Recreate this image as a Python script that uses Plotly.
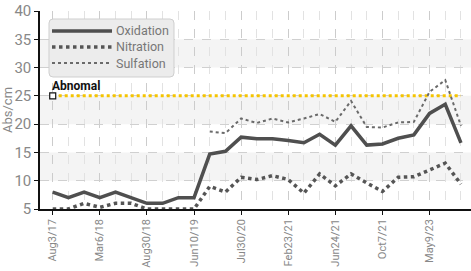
import plotly.graph_objects as go

x_index = list(range(27))
tick_positions = [0, 3, 6, 9, 12, 15, 18, 21, 24]
tick_labels = ["Aug3/17", "Mar6/18", "Aug30/18", "Jun10/19", "Jul30/20",
               "Feb23/21", "Jun24/21", "Oct7/21", "May9/23"]

oxidation = [8, 7, 8, 7, 8, 7, 6, 6, 7, 7, 14.7, 15.2, 17.7, 17.4, 17.4, 17.1, 16.7,
             18.2, 16.3, 19.7, 16.3, 16.5, 17.5, 18.1, 21.9, 23.5, 16.7]
nitration = [5, 5, 6, 5.3, 6, 6, 5, 5, 5, 5, 9, 8, 10.6, 10.2, 10.9, 10.2, 7.8,
             11.2, 9.1, 11.2, 9.6, 8.1, 10.6, 10.7, 11.9, 13.1, 9.4]
sulfation = [None] * 10 + [18.7, 18.4, 21.0, 20.2, 21.0, 20.3, 21.0, 21.8, 20.4,
                           24.1, 19.5, 19.4, 20.3, 20.4, 25.7, 27.8, 19.7]
abnormal_level = [25] * 27
series_names = ["Oxidation", "Nitration", "Sulfation"]

FONT = "Roboto, Liberation Sans, sans-serif"
W, H = 471, 271
ML, MR, MT, MB = 40, 0, 11, 62
PW, PH = W - ML - MR, H - MT - MB


def px_x(px):
    return (px - ML) / PW


def px_y(py):
    return (H - MB - py) / PH


styles = [dict(color="#4f4f4f", width=3.5),
          dict(color="#555555", width=3.5, dash="dot"),
          dict(color="#6a6a6a", width=2, dash="dot")]

fig = go.Figure()

# Background bands
for lo, hi in [(10, 15), (20, 25), (30, 35)]:
    fig.add_shape(type="rect", xref="paper", x0=0, x1=1, yref="y", y0=lo, y1=hi,
                  fillcolor="#f4f4f4", line_width=0, layer="below")

fig.add_trace(go.Scatter(x=x_index, y=abnormal_level, mode="lines", showlegend=False,
                         line=dict(color="#f5c400", width=3, dash="dot"), hoverinfo="skip"))
fig.add_trace(go.Scatter(x=[x_index[0]], y=[abnormal_level[0]], mode="markers", showlegend=False,
                         marker=dict(symbol="square", size=6, color="white",
                                     line=dict(color="#111", width=1.2))))

for name, vals, st in zip(series_names, [oxidation, nitration, sulfation], styles):
    fig.add_trace(go.Scatter(x=x_index, y=vals, name=name, mode="lines",
                             line=st, showlegend=False))

fig.add_annotation(x=x_index[0], y=25, xref="x", yref="y", text="<b>Abnomal</b>",
                   showarrow=False, xanchor="left", yanchor="bottom", xshift=-3, yshift=1,
                   font=dict(family=FONT, size=12, color="#111"))

# Custom legend box (rounded)
bx0, bx1, by0, by1, r = 49, 174, 19, 77, 4
rx, ry = r / PW, r / PH
X0, X1, Y0, Y1 = px_x(bx0), px_x(bx1), px_y(by1), px_y(by0)
path = (f"M{X0+rx},{Y0} L{X1-rx},{Y0} Q{X1},{Y0} {X1},{Y0+ry} L{X1},{Y1-ry} "
        f"Q{X1},{Y1} {X1-rx},{Y1} L{X0+rx},{Y1} Q{X0},{Y1} {X0},{Y1-ry} "
        f"L{X0},{Y0+ry} Q{X0},{Y0} {X0+rx},{Y0} Z")
fig.add_shape(type="path", path=path, xref="paper", yref="paper",
              fillcolor="#ececec", line=dict(color="#cfcfcf", width=1), layer="above")
for i, (name, st) in enumerate(zip(series_names, styles)):
    yy = px_y(31 + i * 16)
    fig.add_shape(type="line", xref="paper", yref="paper", x0=px_x(52), x1=px_x(112),
                  y0=yy, y1=yy, line=st, layer="above")
    fig.add_annotation(x=px_x(114), y=yy, xref="paper", yref="paper", text=name,
                       showarrow=False, xanchor="left", yanchor="middle",
                       font=dict(family=FONT, size=12.5, color="#777"))

fig.update_layout(
    width=W, height=H,
    margin=dict(l=ML, r=MR, t=MT, b=MB, autoexpand=False),
    paper_bgcolor="white", plot_bgcolor="white",
    font=dict(family=FONT, color="#888", size=12),
    showlegend=False,
)

fig.update_xaxes(range=[-0.81, 26.64], tickmode="array", tickvals=tick_positions,
                 ticktext=tick_labels, tickangle=-90, showline=True, linecolor="#111",
                 linewidth=1.5, ticks="outside", ticklen=4, tickcolor="#111",
                 showgrid=True, gridcolor="#cccccc", griddash="dash", gridwidth=1,
                 minor=dict(dtick=1, tick0=0, showgrid=True, gridcolor="#e2e2e2",
                            griddash="dash", gridwidth=1),
                 tickfont=dict(family=FONT, size=11, color="#888"), zeroline=False,
                 automargin=False)
fig.update_yaxes(range=[5, 40], dtick=5, tick0=5, showline=True, linecolor="#111",
                 linewidth=1.5, ticks="outside", ticklen=4, tickcolor="#111",
                 showgrid=True, gridcolor="#d0d0d0", griddash="dash", gridwidth=1,
                 title=dict(text="Abs/cm", font=dict(family=FONT, size=13, color="#888"), standoff=2),
                 tickfont=dict(family=FONT, size=15, color="#888"), zeroline=False,
                 automargin=False)

fig.write_html("out.html", config={"displayModeBar": False},
               post_script="document.body.style.margin='0';")
